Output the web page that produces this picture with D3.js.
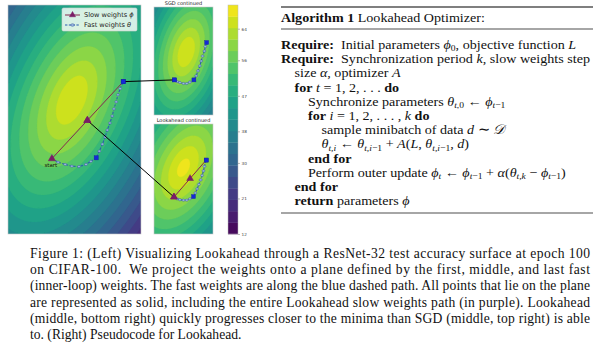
<!DOCTYPE html>
<html>
<head>
<meta charset="utf-8">
<script src="https://cdn.jsdelivr.net/npm/d3@7"></script>
<style>
  html, body { margin: 0; padding: 0; background: #fff; }
  svg { display: block; }
  text { white-space: pre; }
</style>
</head>
<body>
<script>
// ---------- data ----------
// accuracy range covered by the colour bar and its labelled ticks
const colorDomain = [12, 70];
const colorbarTicks = [12, 21, 30, 38, 47, 56, 64];
const levelCount = 20;

// test-accuracy surfaces: [centerX, centerY, peak, slope, tiltDeg, minorRatio, roundness]
const mainSurface = [-0.06, 0.44, 67, 9.0, 23, 0.5, 0.4];
const sgdSurface = [0.06, 0.20, 67, 16, 15, 0.5, 0.25];
const lookaheadSurface = [0.0, 0.25, 68, 13, 25, 0.55, 0.3];

// main panel: fast weights (inner loop) and slow weights
const mainFastX = [-0.51, -0.37, -0.21, -0.06, 0.10, 0.26, 0.37, 0.49, 0.56, 0.63, 0.69, 0.74, 0.80, 0.85, 0.89, 0.94, 0.98, 1.03, 1.10];
const mainFastY = [-0.89, -0.97, -1.02, -1.06, -1.07, -1.02, -0.95, -0.87, -0.72, -0.56, -0.40, -0.24, -0.08, 0.08, 0.24, 0.40, 0.56, 0.70, 0.86];
const mainFastSolid = [7, 18];
const mainSlowX = [-0.51, 0.29, 1.10];
const mainSlowY = [-0.89, -0.02, 0.86];

// SGD continued
const sgdFastX = [-0.20, -0.14, -0.08, 0.00, 0.07, 0.14, 0.23, 0.28, 0.32, 0.36, 0.39, 0.42, 0.46, 0.48, 0.51];
const sgdFastY = [-0.42, -0.46, -0.48, -0.50, -0.50, -0.47, -0.42, -0.33, -0.22, -0.11, 0.00, 0.11, 0.22, 0.32, 0.41];
const sgdFastSolid = [0, 6, 14];

// Lookahead continued
const laFastX = [-0.21, -0.14, -0.08, 0.00, 0.07, 0.14, 0.22, 0.26, 0.30, 0.34, 0.38, 0.41, 0.44, 0.46, 0.50];
const laFastY = [-0.40, -0.44, -0.46, -0.47, -0.47, -0.44, -0.39, -0.31, -0.22, -0.12, -0.02, 0.08, 0.18, 0.28, 0.42];
const laFastSolid = [6, 14];
const laSlowX = [-0.21, 0.145, 0.50];
const laSlowY = [-0.40, 0.01, 0.42];

// text
const legendLabels = ["Slow weights ", "Fast weights "];
const legendSymbols = ["ϕ", "θ"];
const panelTitles = ["SGD continued", "Lookahead continued"];
const startLabel = "start";

const algoHeader = [["Algorithm 1", "b"], [" Lookahead Optimizer:", "r"]];
const algoLines = [
  [0, [["Require:", "b"], ["  Initial parameters ", "r"], ["ϕ", "i"], ["0", "sr"], [", objective function ", "r"], ["L", "i"]]],
  [0, [["Require:", "b"], ["  Synchronization period ", "r"], ["k", "i"], [", slow weights step", "r"]]],
  [1, [["size ", "r"], ["α", "i"], [", optimizer ", "r"], ["A", "i"]]],
  [1, [["for", "b"], [" ", "r"], ["t", "i"], [" = 1, 2, . . . ", "r"], ["do", "b"]]],
  [2, [["Synchronize parameters ", "r"], ["θ", "i"], ["t", "si"], [",0", "sr"], [" ← ", "r"], ["ϕ", "i"], ["t", "si"], ["−1", "sr"]]],
  [2, [["for", "b"], [" ", "r"], ["i", "i"], [" = 1, 2, . . . , ", "r"], ["k", "i"], [" ", "r"], ["do", "b"]]],
  [3, [["sample minibatch of data ", "r"], ["d", "i"], [" ∼ ", "r"], ["𝒟", "i"]]],
  [3, [["θ", "i"], ["t,i", "si"], [" ← ", "r"], ["θ", "i"], ["t,i", "si"], ["−1", "sr"], [" + ", "r"], ["A", "i"], ["(", "r"], ["L", "i"], [", ", "r"], ["θ", "i"], ["t,i", "si"], ["−1", "sr"], [", ", "r"], ["d", "i"], [")", "r"]]],
  [2, [["end for", "b"]]],
  [2, [["Perform outer update ", "r"], ["ϕ", "i"], ["t", "si"], [" ← ", "r"], ["ϕ", "i"], ["t", "si"], ["−1", "sr"], [" + ", "r"], ["α", "i"], ["(", "r"], ["θ", "i"], ["t,k", "si"], [" − ", "r"], ["ϕ", "i"], ["t", "si"], ["−1", "sr"], [")", "r"]]],
  [1, [["end for", "b"]]],
  [1, [["return", "b"], [" parameters ", "r"], ["ϕ", "i"]]]
];

const captionLines = [
  "Figure 1: (Left) Visualizing Lookahead through a ResNet-32 test accuracy surface at epoch 100",
  "on CIFAR-100.  We project the weights onto a plane defined by the first, middle, and last fast",
  "(inner-loop) weights. The fast weights are along the blue dashed path. All points that lie on the plane",
  "are represented as solid, including the entire Lookahead slow weights path (in purple). Lookahead",
  "(middle, bottom right) quickly progresses closer to the minima than SGD (middle, top right) is able",
  "to. (Right) Pseudocode for Lookahead."
];

// ---------- drawing ----------
const W = 613, H = 345;
const svg = d3.select("body").append("svg").attr("width", W).attr("height", H);

const SLOW = "#7a1d66", SLOW_LINE = "#86294f", FAST = "#2a5db0", SQUARE = "#1428d8";

const levels = d3.range(levelCount + 1).map(i => colorDomain[0] + i * (colorDomain[1] - colorDomain[0]) / levelCount);
const bandColor = i => d3.interpolateViridis(((levels[i] + levels[i + 1]) / 2 - colorDomain[0]) / (colorDomain[1] - colorDomain[0]));

function surfaceValue(p, x, y) {
  const [cx, cy, peak, k, tilt, b, r0] = p;
  const t = tilt * Math.PI / 180;
  const dx = x - cx, dy = y - cy;
  const u = dx * Math.sin(t) + dy * Math.cos(t);
  const v = (dx * Math.cos(t) - dy * Math.sin(t)) / b;
  const r = Math.sqrt(u * u + v * v);
  return Math.max(colorDomain[0] + 0.01, peak - k * (Math.sqrt(r * r + r0 * r0) - r0));
}

const panels = [
  { x0: 8, x1: 141, y0: 5, y1: 234, xDom: [-1.5, 1.5], yDom: [-2.6, 2.6], surf: mainSurface },
  { x0: 154, x1: 213, y0: 7, y1: 115, xDom: [-0.65, 0.65], yDom: [-1.2, 1.2], surf: sgdSurface },
  { x0: 154, x1: 213, y0: 124, y1: 234, xDom: [-0.65, 0.65], yDom: [-1.22, 1.22], surf: lookaheadSurface }
];

panels.forEach((p, pi) => {
  p.x = d3.scaleLinear().domain(p.xDom).range([p.x0, p.x1]);
  p.y = d3.scaleLinear().domain(p.yDom).range([p.y1, p.y0]);
  const nx = Math.round((p.x1 - p.x0) * 2), ny = Math.round((p.y1 - p.y0) * 2);
  const vals = new Array(nx * ny);
  for (let j = 0; j < ny; j++) {
    for (let i = 0; i < nx; i++) {
      const px = p.x0 + (i + 0.5) * (p.x1 - p.x0) / nx;
      const py = p.y0 + (j + 0.5) * (p.y1 - p.y0) / ny;
      vals[j * nx + i] = surfaceValue(p.surf, p.x.invert(px), p.y.invert(py));
    }
  }
  const contours = d3.contours().size([nx, ny]).thresholds(levels.slice(0, -1))(vals);
  const proj = d3.geoIdentity().scale((p.x1 - p.x0) / nx).translate([p.x0, p.y0]);
  const path = d3.geoPath(proj);
  const clipId = "clip" + pi;
  svg.append("clipPath").attr("id", clipId).append("rect")
    .attr("x", p.x0).attr("y", p.y0).attr("width", p.x1 - p.x0).attr("height", p.y1 - p.y0);
  const g = svg.append("g").attr("clip-path", `url(#${clipId})`);
  g.append("rect").attr("x", p.x0).attr("y", p.y0).attr("width", p.x1 - p.x0).attr("height", p.y1 - p.y0)
    .attr("fill", bandColor(0));
  g.selectAll("path.band").data(contours).join("path").attr("class", "band")
    .attr("d", path)
    .attr("fill", (d, i) => bandColor(i))
    .attr("stroke", (d, i) => bandColor(i)).attr("stroke-width", 0.3);
  p.g = g;
  svg.append("rect").attr("x", p.x0).attr("y", p.y0).attr("width", p.x1 - p.x0).attr("height", p.y1 - p.y0)
    .attr("fill", "none").attr("stroke", "#c8c8c8").attr("stroke-width", 0.6);
});

// marker helpers
function triangle(g, cx, cy, s) {
  g.append("path").attr("d", d3.symbol(d3.symbolTriangle, s)())
    .attr("transform", `translate(${cx},${cy})`).attr("fill", SLOW).attr("stroke", SLOW).attr("stroke-width", 0.5);
}
function square(g, cx, cy, s) {
  g.append("rect").attr("x", cx - s / 2).attr("y", cy - s / 2).attr("width", s).attr("height", s)
    .attr("fill", SQUARE).attr("stroke", "#1a2a9a").attr("stroke-width", 0.4);
}

function drawFast(p, xs, ys, solid, sq) {
  const pts = xs.map((v, i) => [p.x(v), p.y(ys[i])]);
  p.g.append("path").attr("d", d3.line()(pts)).attr("fill", "none")
    .attr("stroke", FAST).attr("stroke-width", 1.1).attr("stroke-dasharray", "2.4,1.4");
  pts.forEach((q, i) => {
    if (i === 0 || solid.includes(i)) return;
    p.g.append("ellipse").attr("cx", q[0]).attr("cy", q[1]).attr("rx", 1.5).attr("ry", 1.1)
      .attr("fill", "#9db8e0").attr("stroke", "#3b5f9e").attr("stroke-width", 0.5);
  });
  solid.forEach(i => square(p.g, pts[i][0], pts[i][1], sq));
  return pts;
}
function drawSlow(p, xs, ys, tri) {
  const pts = xs.map((v, i) => [p.x(v), p.y(ys[i])]);
  p.g.append("path").attr("d", d3.line()(pts)).attr("fill", "none")
    .attr("stroke", SLOW_LINE).attr("stroke-width", 1);
  pts.slice(0, -1).forEach(q => triangle(p.g, q[0], q[1], tri));
  return pts;
}

const [pm, ps, pl] = panels;
const mainFastPts = drawFast(pm, mainFastX, mainFastY, mainFastSolid, 4.2);
const mainSlowPts = drawSlow(pm, mainSlowX, mainSlowY, 22);
const sgdPts = drawFast(ps, sgdFastX, sgdFastY, sgdFastSolid, 4);
const laPts = drawFast(pl, laFastX, laFastY, laFastSolid, 4);
const laSlowPts = drawSlow(pl, laSlowX, laSlowY, 20);
// squares sit above the slow-weight line where they meet
square(pl.g, laPts[14][0], laPts[14][1], 4);
square(pm.g, mainFastPts[18][0], mainFastPts[18][1], 4.2);

// "start" label
svg.append("text").attr("x", mainSlowPts[0][0] - 1).attr("y", mainSlowPts[0][1] + 8)
  .attr("text-anchor", "middle").attr("font-family", "DejaVu Sans").attr("font-size", 5.5)
  .attr("fill", "#111").text(startLabel);

// connectors from the main panel to the zoomed panels
svg.append("line").attr("x1", mainFastPts[18][0]).attr("y1", mainFastPts[18][1])
  .attr("x2", sgdPts[0][0]).attr("y2", sgdPts[0][1]).attr("stroke", "#000").attr("stroke-width", 1);
svg.append("line").attr("x1", mainSlowPts[1][0]).attr("y1", mainSlowPts[1][1])
  .attr("x2", laPts[0][0]).attr("y2", laPts[0][1]).attr("stroke", "#000").attr("stroke-width", 1);
square(svg, sgdPts[0][0], sgdPts[0][1], 4);
triangle(svg, laPts[0][0], laPts[0][1], 20);
triangle(svg, mainSlowPts[1][0], mainSlowPts[1][1], 22);
square(svg, mainFastPts[18][0], mainFastPts[18][1], 4.2);

// panel titles
svg.append("text").attr("x", (ps.x0 + ps.x1) / 2).attr("y", 5).attr("text-anchor", "middle")
  .attr("font-family", "DejaVu Sans").attr("font-size", 5).attr("fill", "#222").text(panelTitles[0]);
svg.append("text").attr("x", (pl.x0 + pl.x1) / 2).attr("y", 122).attr("text-anchor", "middle")
  .attr("font-family", "DejaVu Sans").attr("font-size", 5).attr("fill", "#222").text(panelTitles[1]);

// legend
const lg = svg.append("g");
lg.append("rect").attr("x", 62).attr("y", 8).attr("width", 75).attr("height", 23).attr("rx", 1.5)
  .attr("fill", "#fff").attr("fill-opacity", 0.8).attr("stroke", "#d0d0d0").attr("stroke-width", 0.6);
[0, 1].forEach(i => {
  const yy = 15 + i * 10;
  if (i === 0) {
    lg.append("line").attr("x1", 65).attr("x2", 80).attr("y1", yy).attr("y2", yy).attr("stroke", SLOW_LINE).attr("stroke-width", 1);
    triangle(lg, 72.5, yy, 16);
  } else {
    lg.append("line").attr("x1", 65).attr("x2", 80).attr("y1", yy).attr("y2", yy).attr("stroke", FAST)
      .attr("stroke-width", 1.1).attr("stroke-dasharray", "2.4,1.4");
    lg.append("ellipse").attr("cx", 72.5).attr("cy", yy).attr("rx", 1.8).attr("ry", 1.3)
      .attr("fill", "#9db8e0").attr("stroke", "#3b5f9e").attr("stroke-width", 0.5);
  }
  const t = lg.append("text").attr("x", 84).attr("y", yy + 2.3).attr("font-family", "DejaVu Sans")
    .attr("font-size", 6.6).attr("fill", "#222");
  t.append("tspan").text(legendLabels[i]);
  t.append("tspan").attr("font-style", "italic").text(legendSymbols[i]);
});

// colour bar
const cb = { x: 228, w: 10, y0: 5, y1: 234 };
const cbY = d3.scaleLinear().domain(colorDomain).range([cb.y1, cb.y0]);
svg.append("g").selectAll("rect").data(d3.range(levelCount)).join("rect")
  .attr("x", cb.x).attr("width", cb.w)
  .attr("y", i => cbY(levels[i + 1]))
  .attr("height", i => cbY(levels[i]) - cbY(levels[i + 1]) + 0.3)
  .attr("fill", i => bandColor(i));
svg.append("rect").attr("x", cb.x).attr("y", cb.y0).attr("width", cb.w).attr("height", cb.y1 - cb.y0)
  .attr("fill", "none").attr("stroke", "#bbb").attr("stroke-width", 0.5);
const cbAxis = d3.axisRight(cbY).tickValues(colorbarTicks).tickSize(2).tickPadding(1.5).tickFormat(d3.format("d"));
const cbg = svg.append("g").attr("transform", `translate(${cb.x + cb.w},0)`).call(cbAxis);
cbg.select(".domain").remove();
cbg.selectAll("line").attr("stroke", "#555").attr("stroke-width", 0.4);
cbg.selectAll("text").attr("font-family", "DejaVu Sans").attr("font-size", 4.2).attr("fill", "#444");

// ---------- algorithm box ----------
// type set at 13.5px and widened slightly so lines keep their measure
const ALGO_FONT = 13.5, ALGO_STRETCH = 1.044;
const algoX = 281, algoRight = 593;
function richLine(parent, x, y, segs, size) {
  const t = parent.append("text").attr("x", x).attr("y", y)
    .attr("font-family", "'Liberation Serif', 'Times New Roman', serif").attr("font-size", size).attr("fill", "#111");
  let cur = 0;
  segs.forEach(([s, kind]) => {
    const sub = kind === "si" || kind === "sr";
    const want = sub ? size * 0.17 : 0;
    const ts = t.append("tspan").text(s);
    if (want !== cur) { ts.attr("dy", want - cur); cur = want; }
    if (kind === "b") ts.attr("font-weight", "bold");
    if (kind === "i" || kind === "si") ts.attr("font-style", "italic");
    if (sub) ts.attr("font-size", size * 0.68);
  });
  return t;
}
const ag = svg.append("g");
ag.append("line").attr("x1", algoX).attr("x2", algoRight).attr("y1", 7).attr("y2", 7).attr("stroke", "#000").attr("stroke-width", 1.1);
ag.append("line").attr("x1", algoX).attr("x2", algoRight).attr("y1", 29).attr("y2", 29).attr("stroke", "#000").attr("stroke-width", 0.7);
ag.append("line").attr("x1", algoX).attr("x2", algoRight).attr("y1", 213).attr("y2", 213).attr("stroke", "#000").attr("stroke-width", 0.7);
const agText = ag.append("g").attr("transform", `translate(${algoX},0) scale(${ALGO_STRETCH},1)`);
richLine(agText, 0, 22, algoHeader, ALGO_FONT);
algoLines.forEach(([ind, segs], i) => {
  richLine(agText, ind * 13.5 / ALGO_STRETCH, 49 + i * 14.2, segs, ALGO_FONT);
});

// ---------- caption ----------
const capX = 30, capW = 560;
captionLines.forEach((line, i) => {
  const t = svg.append("text").attr("x", capX).attr("y", 258 + i * 16.2)
    .attr("font-family", "'Liberation Serif', 'Times New Roman', serif").attr("font-size", 13.6).attr("fill", "#111")
    .text(line);
  if (i < captionLines.length - 1) t.attr("textLength", capW).attr("lengthAdjust", "spacing");
});
</script>
</body>
</html>
